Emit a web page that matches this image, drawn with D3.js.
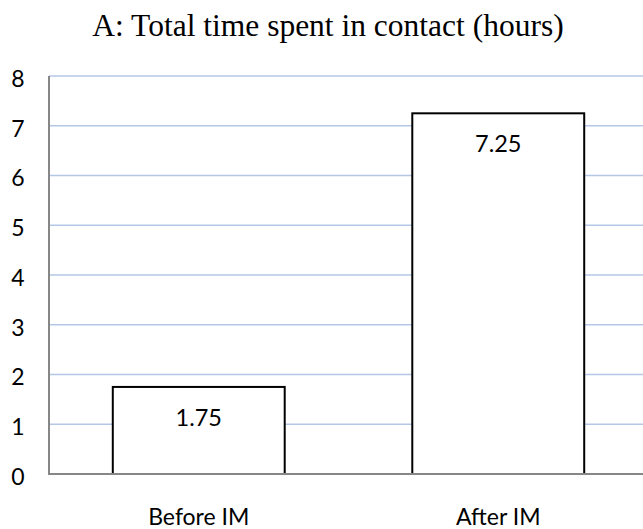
<!DOCTYPE html>
<html>
<head>
<meta charset="utf-8">
<script src="https://cdn.jsdelivr.net/npm/d3@7"></script>
<style>
  body { margin: 0; background: #fff; }
  .chart { width: 643px; height: 529px; }
</style>
</head>
<body>
<div class="chart"></div>
<script>
var categories = ["Before IM", "After IM"];
var hours = [1.75, 7.25];
var yTicks = [0, 1, 2, 3, 4, 5, 6, 7, 8];
var title = "A: Total time spent in contact (hours)";

var data = categories.map((c, i) => ({ name: c, value: hours[i] }));

var width = 643;
var height = 529;
var plot = { left: 49, right: 648, top: 76, bottom: 474 };
var sans = "Lato, 'Open Sans', sans-serif";

var svg = d3
  .select(".chart")
  .append("svg")
  .attr("width", width)
  .attr("height", height);

var xScale = d3
  .scaleBand()
  .domain(categories)
  .range([plot.left, plot.right])
  .paddingInner(0.426)
  .paddingOuter(0.213);

var yScale = d3.scaleLinear().domain([0, 8]).range([plot.bottom, plot.top]);

// title
svg
  .append("text")
  .attr("x", 328)
  .attr("y", 36)
  .attr("text-anchor", "middle")
  .style("font-family", "'Liberation Serif', 'Times New Roman', serif")
  .style("font-size", "31.5px")
  .attr("fill", "#000")
  .text(title);

// gridlines
svg
  .append("g")
  .selectAll("line")
  .data(yTicks.filter((d) => d > 0))
  .enter()
  .append("line")
  .attr("x1", plot.left)
  .attr("x2", width)
  .attr("y1", (d) => yScale(d))
  .attr("y2", (d) => yScale(d))
  .attr("stroke", "#b4c7e7")
  .attr("stroke-width", 1.5);

// y axis labels, line drawn separately
var yAxis = svg
  .append("g")
  .attr("transform", "translate(18,0)")
  .call(d3.axisLeft(yScale).tickValues(yTicks).tickSize(0).tickPadding(0));
yAxis.select(".domain").remove();
yAxis
  .selectAll("text")
  .attr("text-anchor", "middle")
  .attr("dy", "0.45em")
  .style("font-family", sans)
  .style("font-size", "23px")
  .attr("fill", "#000");

// bars
svg
  .append("g")
  .selectAll("rect")
  .data(data)
  .enter()
  .append("rect")
  .attr("x", (d) => xScale(d.name))
  .attr("y", (d) => yScale(d.value))
  .attr("width", xScale.bandwidth())
  .attr("height", (d) => yScale(0) - yScale(d.value))
  .attr("fill", "#fff")
  .attr("stroke", "#000")
  .attr("stroke-width", 2);

// value labels
svg
  .append("g")
  .selectAll("text")
  .data(data)
  .enter()
  .append("text")
  .attr("x", (d) => xScale(d.name) + xScale.bandwidth() / 2)
  .attr("y", (d) => yScale(d.value) + 39)
  .attr("text-anchor", "middle")
  .style("font-family", sans)
  .style("font-size", "23.5px")
  .attr("fill", "#000")
  .text((d) => d.value);

// axis lines
svg
  .append("line")
  .attr("x1", plot.left)
  .attr("x2", plot.left)
  .attr("y1", plot.top)
  .attr("y2", plot.bottom)
  .attr("stroke", "#878787")
  .attr("stroke-width", 2);
svg
  .append("line")
  .attr("x1", plot.left - 1)
  .attr("x2", width)
  .attr("y1", plot.bottom)
  .attr("y2", plot.bottom)
  .attr("stroke", "#878787")
  .attr("stroke-width", 2);

// x axis labels
var xAxis = svg
  .append("g")
  .attr("transform", `translate(0, 525)`)
  .call(d3.axisBottom(xScale).tickSize(0).tickPadding(0));
xAxis.select(".domain").remove();
xAxis
  .selectAll("text")
  .attr("dy", 0)
  .style("font-family", sans)
  .style("font-size", "23px")
  .attr("fill", "#000");
</script>
</body>
</html>
